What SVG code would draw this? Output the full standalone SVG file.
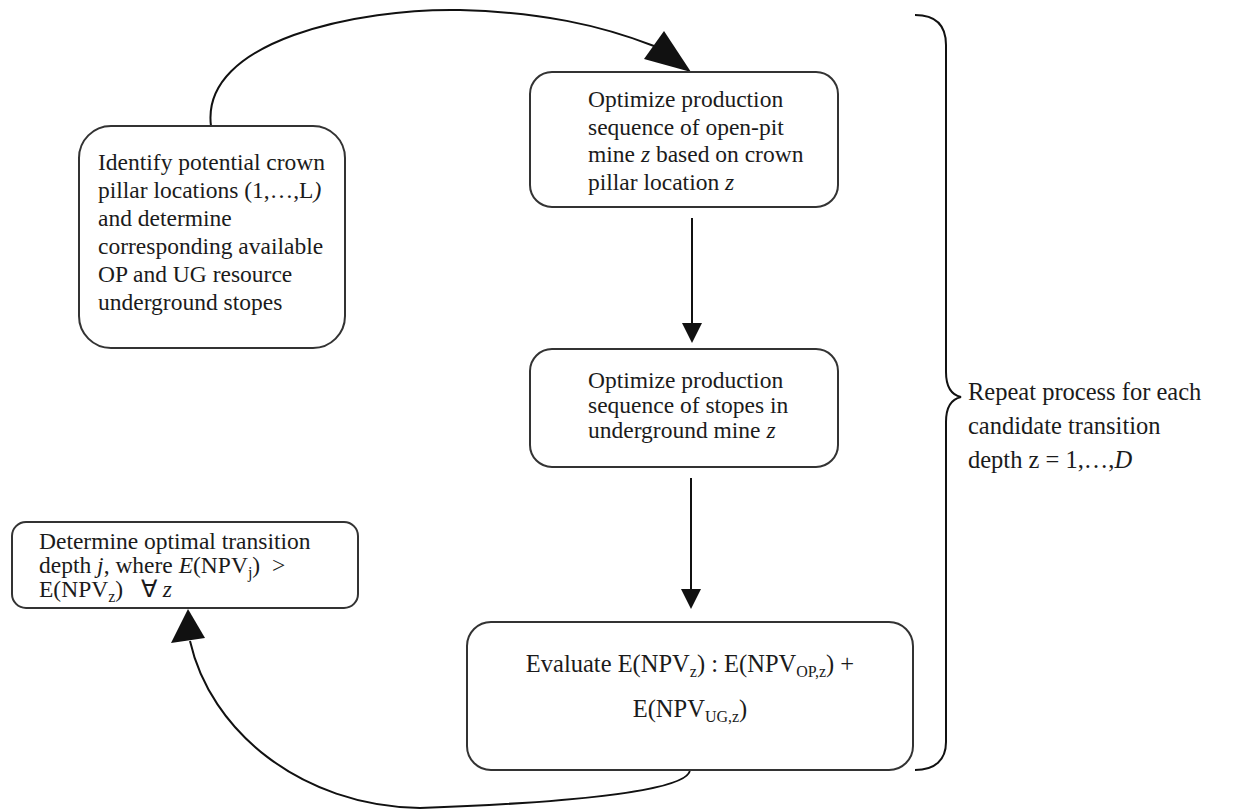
<svg xmlns="http://www.w3.org/2000/svg" width="1240" height="810" viewBox="0 0 1240 810">
  <style>
    .box { fill: #ffffff; stroke: #333333; stroke-width: 2; }
    .wire { fill: none; stroke: #111111; stroke-width: 2; }
    .head { fill: #111111; stroke: none; }
    .t { font-family: "Liberation Serif", "Times New Roman", serif; font-size: 23.5px; fill: #1b1b1b; }
    .m { font-size: 24.5px; }
    .side { font-size: 24.5px; }
    .i { font-style: italic; }
    .sub { font-size: 16px; }
  </style>
  <rect width="1240" height="810" fill="#ffffff"/>

  <!-- connectors -->
  <g id="connectors">
    <path class="wire" d="M211,126 C200,40 360,8 460,10 C540,12 600,25 654,46"/>
    <polygon class="head" points="691,72 644,59 664,31"/>
    <line class="wire" x1="692" y1="218" x2="692" y2="325"/>
    <polygon class="head" points="682,323 702,323 692,343"/>
    <line class="wire" x1="691" y1="478" x2="691" y2="591"/>
    <polygon class="head" points="681,589 701,589 691,609"/>
    <path class="wire" d="M690,770 C688,792 560,803 420,808 C300,806 210,730 190,641"/>
    <polygon class="head" points="188,609 171,643 205,638"/>
  </g>

  <g id="identify">
    <rect class="box" x="79" y="126" width="266" height="222" rx="32"/>
    <text class="t" x="98" y="170">Identify potential crown</text>
    <text class="t" x="98" y="198">pillar locations (1,…,L<tspan class="i">)</tspan></text>
    <text class="t" x="98" y="226">and determine</text>
    <text class="t" x="98" y="254">corresponding available</text>
    <text class="t" x="98" y="282">OP and UG resource</text>
    <text class="t" x="98" y="310">underground stopes</text>
  </g>

  <g id="optimize-open-pit">
    <rect class="box" x="530" y="72" width="308" height="135" rx="22"/>
    <text class="t" x="588" y="107">Optimize production</text>
    <text class="t" x="588" y="135">sequence of open-pit</text>
    <text class="t" x="588" y="162">mine <tspan class="i">z</tspan> based on crown</text>
    <text class="t" x="588" y="190">pillar location <tspan class="i">z</tspan></text>
  </g>

  <g id="optimize-stopes">
    <rect class="box" x="530" y="349" width="308" height="118" rx="22"/>
    <text class="t" x="588" y="388">Optimize production</text>
    <text class="t" x="588" y="413">sequence of stopes in</text>
    <text class="t" x="588" y="438">underground mine <tspan class="i">z</tspan></text>
  </g>

  <g id="evaluate">
    <rect class="box" x="467" y="622" width="446" height="148" rx="24"/>
    <text class="t m" x="690" y="672" text-anchor="middle">Evaluate E(NPV<tspan class="sub" dy="5">z</tspan><tspan dy="-5">)&#160;: E(NPV</tspan><tspan class="sub" dy="5">OP,z</tspan><tspan dy="-5">) +</tspan></text>
    <text class="t m" x="690" y="717" text-anchor="middle">E(NPV<tspan class="sub" dy="5">UG,z</tspan><tspan dy="-5">)</tspan></text>
  </g>

  <g id="determine">
    <rect class="box" x="12" y="522" width="346" height="86" rx="14"/>
    <text class="t" x="39" y="549">Determine optimal transition</text>
    <text class="t" x="39" y="573">depth <tspan class="i">j</tspan>, where <tspan class="i">E</tspan>(NPV<tspan class="sub" dy="5">j</tspan><tspan dy="-5">)&#160;&#160;&gt;</tspan></text>
    <text class="t" x="39" y="597">E(NPV<tspan class="sub" dy="5">z</tspan><tspan dy="-5">)&#160;&#160;&#160;∀ </tspan><tspan class="i">z</tspan></text>
  </g>

  <g id="repeat-brace">
    <path class="wire" stroke-width="1.8" d="M915,15 C935,15 946,25 946,45 L946,372 C946,388 952,395 961,397 C952,399 946,406 946,422 L946,742 C946,760 935,770 915,770"/>
    <text class="t side" x="968" y="400">Repeat process for each</text>
    <text class="t side" x="968" y="434">candidate transition</text>
    <text class="t side" x="968" y="468">depth z = 1,…,<tspan class="i">D</tspan></text>
  </g>
</svg>
